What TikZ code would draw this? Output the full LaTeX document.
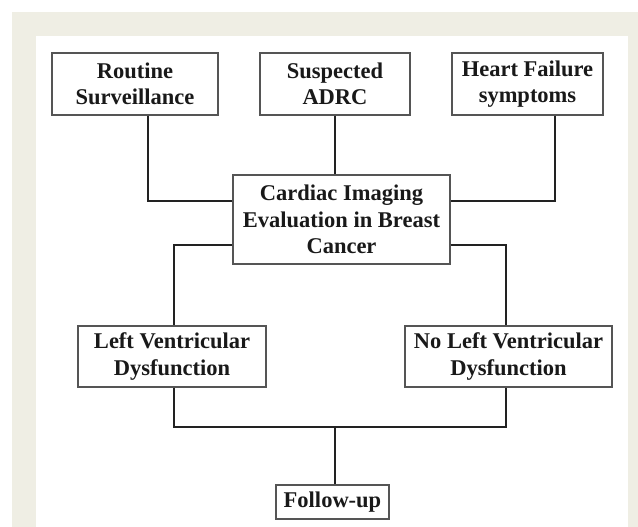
\documentclass[tikz,border=0pt]{standalone}
\usepackage{fontspec}
\setmainfont{Liberation Serif}
\definecolor{beige}{HTML}{EFEEE4}
\definecolor{boxline}{HTML}{555555}
\definecolor{conline}{HTML}{222222}
\begin{document}
\begin{tikzpicture}[x=1pt,y=-1pt,
  box/.style={draw=boxline,line width=1.3pt,fill=white,inner sep=0pt,align=center,
    font=\fontsize{22.5}{26.5}\selectfont\bfseries,text=black!90},
  con/.style={draw=conline,line width=1.8pt}]
\useasboundingbox (0,0) rectangle (638,527);
\fill[white] (0,0) rectangle (638,527);
\fill[beige] (12,12) rectangle (638,527);
\fill[white] (36,36) rectangle (628,527);
\node[box,minimum width=166pt,minimum height=62pt] (RS) at (135,84) {Routine\\Surveillance};
\node[box,minimum width=150pt,minimum height=62pt] (AD) at (335,84) {Suspected\\ADRC};
\node[box,minimum width=151pt,minimum height=62pt] (HF) at (527.5,84) {Heart Failure\\symptoms};
\node[box,minimum width=217pt,minimum height=89pt] (CI) at (341.5,219.5) {Cardiac Imaging\\Evaluation in Breast\\Cancer};
\node[box,minimum width=188pt,minimum height=61pt] (LV) at (172,356.5) {Left Ventricular\\Dysfunction};
\node[box,minimum width=207pt,minimum height=61pt] (NL) at (508.5,356.5) {No Left Ventricular\\Dysfunction};
\node[box,minimum width=113pt,minimum height=34pt] (FU) at (332.5,502) {Follow-up};
\coordinate (j1) at (148,201);
\coordinate (j2) at (555,201);
\coordinate (j3) at (174,245);
\coordinate (j4) at (506,245);
\coordinate (j5) at (335,427);
\draw[con] (RS.south -| j1) |- (CI.west |- j1);
\draw[con] (HF.south -| j2) |- (CI.east |- j2);
\draw[con] (AD.south) -- (AD.south |- CI.north);
\draw[con] (CI.west |- j3) -| (LV.north -| j3);
\draw[con] (CI.east |- j4) -| (NL.north -| j4);
\draw[con] (LV.south -| j3) |- (j5) -| (NL.south -| j4);
\draw[con] (j5) -- (FU.north -| j5);
\end{tikzpicture}
\end{document}
